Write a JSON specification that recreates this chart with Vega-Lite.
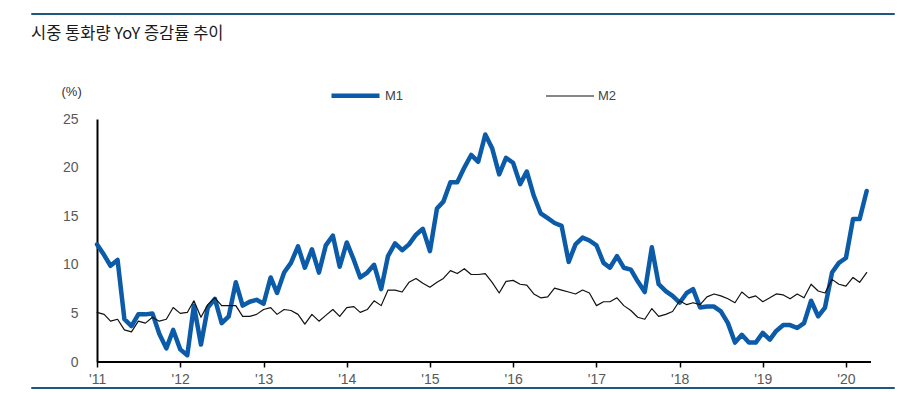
{
  "$schema": "https://vega.github.io/schema/vega-lite/v6.json",
  "background": "white",
  "padding": {"left": 30, "top": 12, "right": 0, "bottom": 0},
  "config": {"view": {"stroke": null}, "font": "Liberation Sans"},
  "spacing": 26,
  "resolve": {"legend": {"color": "independent", "strokeWidth": "independent"}, "scale": {"color": "independent", "strokeWidth": "independent"}},
  "vconcat": [
    {
      "width": 863,
      "height": 1,
      "data": {"values": []},
      "mark": {"type": "rule"},
      "encoding": {},
      "view": {"stroke": "#1d5783", "strokeWidth": 1},
      "title": {"text": "시중 통화량 YoY 증감률 추이", "orient": "bottom", "anchor": "start", "offset": 12, "font": "Noto Sans CJK KR", "fontSize": 16.5, "fontWeight": "normal", "color": "#1a1a1a"}
    },
    {
      "spacing": 0,
      "resolve": {"legend": {"color": "independent", "strokeWidth": "independent"}, "scale": {"color": "independent", "strokeWidth": "independent"}},
      "vconcat": [
        {
          "width": 840,
          "height": 243,
          "data": {"values": [
            {"d":"2011-01-01","M1":12.1,"M2":5.1},{"d":"2011-02-01","M1":11.0,"M2":4.9},{"d":"2011-03-01","M1":9.9,"M2":4.2},{"d":"2011-04-01","M1":10.5,"M2":4.4},
            {"d":"2011-05-01","M1":4.4,"M2":3.3},{"d":"2011-06-01","M1":3.7,"M2":3.1},{"d":"2011-07-01","M1":4.9,"M2":4.2},{"d":"2011-08-01","M1":4.9,"M2":4.0},
            {"d":"2011-09-01","M1":5.0,"M2":4.6},{"d":"2011-10-01","M1":2.9,"M2":4.2},{"d":"2011-11-01","M1":1.4,"M2":4.4},{"d":"2011-12-01","M1":3.3,"M2":5.6},
            {"d":"2012-01-01","M1":1.3,"M2":5.0},{"d":"2012-02-01","M1":0.7,"M2":5.1},{"d":"2012-03-01","M1":5.8,"M2":6.3},{"d":"2012-04-01","M1":1.8,"M2":4.6},
            {"d":"2012-05-01","M1":5.6,"M2":5.9},{"d":"2012-06-01","M1":6.5,"M2":6.6},{"d":"2012-07-01","M1":4.0,"M2":5.8},{"d":"2012-08-01","M1":4.7,"M2":5.8},
            {"d":"2012-09-01","M1":8.2,"M2":5.8},{"d":"2012-10-01","M1":5.8,"M2":4.7},{"d":"2012-11-01","M1":6.2,"M2":4.7},{"d":"2012-12-01","M1":6.4,"M2":4.9},
            {"d":"2013-01-01","M1":6.0,"M2":5.4},{"d":"2013-02-01","M1":8.7,"M2":5.6},{"d":"2013-03-01","M1":7.1,"M2":4.9},{"d":"2013-04-01","M1":9.2,"M2":5.4},
            {"d":"2013-05-01","M1":10.2,"M2":5.3},{"d":"2013-06-01","M1":11.9,"M2":4.9},{"d":"2013-07-01","M1":9.7,"M2":3.9},{"d":"2013-08-01","M1":11.6,"M2":4.9},
            {"d":"2013-09-01","M1":9.2,"M2":4.2},{"d":"2013-10-01","M1":12.0,"M2":4.8},{"d":"2013-11-01","M1":13.0,"M2":5.4},{"d":"2013-12-01","M1":9.8,"M2":4.7},
            {"d":"2014-01-01","M1":12.3,"M2":5.6},{"d":"2014-02-01","M1":10.5,"M2":5.7},{"d":"2014-03-01","M1":8.7,"M2":5.1},{"d":"2014-04-01","M1":9.2,"M2":5.4},
            {"d":"2014-05-01","M1":10.0,"M2":6.3},{"d":"2014-06-01","M1":7.5,"M2":5.8},{"d":"2014-07-01","M1":10.9,"M2":7.4},{"d":"2014-08-01","M1":12.2,"M2":7.4},
            {"d":"2014-09-01","M1":11.5,"M2":7.2},{"d":"2014-10-01","M1":12.1,"M2":8.2},{"d":"2014-11-01","M1":13.1,"M2":8.6},{"d":"2014-12-01","M1":13.7,"M2":8.1},
            {"d":"2015-01-01","M1":11.4,"M2":7.7},{"d":"2015-02-01","M1":15.8,"M2":8.2},{"d":"2015-03-01","M1":16.5,"M2":8.6},{"d":"2015-04-01","M1":18.5,"M2":9.4},
            {"d":"2015-05-01","M1":18.5,"M2":9.1},{"d":"2015-06-01","M1":20.0,"M2":9.6},{"d":"2015-07-01","M1":21.3,"M2":9.0},{"d":"2015-08-01","M1":20.6,"M2":9.0},
            {"d":"2015-09-01","M1":23.4,"M2":9.1},{"d":"2015-10-01","M1":22.0,"M2":8.2},{"d":"2015-11-01","M1":19.3,"M2":7.1},{"d":"2015-12-01","M1":21.0,"M2":8.3},
            {"d":"2016-01-01","M1":20.5,"M2":8.4},{"d":"2016-02-01","M1":18.3,"M2":8.0},{"d":"2016-03-01","M1":19.6,"M2":7.9},{"d":"2016-04-01","M1":17.1,"M2":7.0},
            {"d":"2016-05-01","M1":15.3,"M2":6.6},{"d":"2016-06-01","M1":14.8,"M2":6.7},{"d":"2016-07-01","M1":14.3,"M2":7.6},{"d":"2016-08-01","M1":14.0,"M2":7.4},
            {"d":"2016-09-01","M1":10.3,"M2":7.2},{"d":"2016-10-01","M1":12.1,"M2":7.0},{"d":"2016-11-01","M1":12.8,"M2":7.4},{"d":"2016-12-01","M1":12.5,"M2":7.1},
            {"d":"2017-01-01","M1":12.0,"M2":5.8},{"d":"2017-02-01","M1":10.2,"M2":6.2},{"d":"2017-03-01","M1":9.7,"M2":6.2},{"d":"2017-04-01","M1":10.9,"M2":6.6},
            {"d":"2017-05-01","M1":9.7,"M2":5.8},{"d":"2017-06-01","M1":9.5,"M2":5.3},{"d":"2017-07-01","M1":8.3,"M2":4.6},{"d":"2017-08-01","M1":7.2,"M2":4.4},
            {"d":"2017-09-01","M1":11.8,"M2":5.5},{"d":"2017-10-01","M1":8.0,"M2":4.7},{"d":"2017-11-01","M1":7.3,"M2":4.9},{"d":"2017-12-01","M1":6.8,"M2":5.2},
            {"d":"2018-01-01","M1":6.1,"M2":6.3},{"d":"2018-02-01","M1":7.1,"M2":5.9},{"d":"2018-03-01","M1":7.5,"M2":6.1},{"d":"2018-04-01","M1":5.6,"M2":5.9},
            {"d":"2018-05-01","M1":5.7,"M2":6.7},{"d":"2018-06-01","M1":5.7,"M2":7.0},{"d":"2018-07-01","M1":5.2,"M2":6.8},{"d":"2018-08-01","M1":4.0,"M2":6.5},
            {"d":"2018-09-01","M1":2.0,"M2":6.1},{"d":"2018-10-01","M1":2.8,"M2":7.2},{"d":"2018-11-01","M1":2.0,"M2":6.6},{"d":"2018-12-01","M1":2.0,"M2":6.8},
            {"d":"2019-01-01","M1":3.0,"M2":6.2},{"d":"2019-02-01","M1":2.3,"M2":6.6},{"d":"2019-03-01","M1":3.2,"M2":7.0},{"d":"2019-04-01","M1":3.8,"M2":6.9},
            {"d":"2019-05-01","M1":3.8,"M2":6.5},{"d":"2019-06-01","M1":3.5,"M2":7.0},{"d":"2019-07-01","M1":4.0,"M2":6.6},{"d":"2019-08-01","M1":6.3,"M2":8.0},
            {"d":"2019-09-01","M1":4.7,"M2":7.3},{"d":"2019-10-01","M1":5.6,"M2":7.1},{"d":"2019-11-01","M1":9.2,"M2":8.5},{"d":"2019-12-01","M1":10.2,"M2":8.0},
            {"d":"2020-01-01","M1":10.7,"M2":7.8},{"d":"2020-02-01","M1":14.7,"M2":8.7},{"d":"2020-03-01","M1":14.7,"M2":8.2},{"d":"2020-04-01","M1":17.6,"M2":9.2}
          ]},
          "layer": [
            {
              "data": {"values": [{"a": 0}]},
              "mark": {"type": "rule", "color": "#000000", "strokeWidth": 2},
              "encoding": {
                "x": {"datum": {"year": 2011, "month": 1, "date": 1, "utc": true}, "type": "temporal"},
                "x2": {"datum": {"year": 2020, "month": 4, "date": 20, "utc": true}},
                "y": {"datum": 0, "type": "quantitative"}
              }
            },
            {
              "transform": [{"fold": ["M1", "M2"], "as": ["s", "v"]}],
              "mark": {"type": "line", "strokeJoin": "round", "strokeCap": "round"},
              "encoding": {
                "x": {
                  "field": "d", "type": "temporal",
                  "scale": {"type": "utc", "nice": false, "domain": [{"year": 2010, "month": 3, "date": 17, "utc": true}, {"year": 2020, "month": 4, "date": 20, "utc": true}]},
                  "axis": {
                    "title": null, "format": "'%y", "grid": false, "domain": false,
                    "values": [
                      {"year": 2011, "month": 1, "date": 1, "utc": true}, {"year": 2012, "month": 1, "date": 1, "utc": true},
                      {"year": 2013, "month": 1, "date": 1, "utc": true}, {"year": 2014, "month": 1, "date": 1, "utc": true},
                      {"year": 2015, "month": 1, "date": 1, "utc": true}, {"year": 2016, "month": 1, "date": 1, "utc": true},
                      {"year": 2017, "month": 1, "date": 1, "utc": true}, {"year": 2018, "month": 1, "date": 1, "utc": true},
                      {"year": 2019, "month": 1, "date": 1, "utc": true}, {"year": 2020, "month": 1, "date": 1, "utc": true}
                    ],
                    "tickColor": "#000000", "tickWidth": 1.5, "tickSize": 5,
                    "labelPadding": 5, "labelFontSize": 14, "labelColor": "#595959", "labelFlush": false, "labelOverlap": false,
                    "minExtent": 24, "maxExtent": 24
                  }
                },
                "y": {
                  "field": "v", "type": "quantitative",
                  "scale": {"domain": [0, 25], "nice": false},
                  "axis": {
                    "title": "(%)", "titleAngle": 0, "titleX": -36, "titleY": -28, "titleAlign": "left", "titleBaseline": "middle",
                    "titleFontSize": 13, "titleFontWeight": "normal", "titleColor": "#333333",
                    "values": [0, 5, 10, 15, 20, 25], "ticks": false, "grid": false, "offset": -66,
                    "domainColor": "#000000", "domainWidth": 2,
                    "labelPadding": 19, "labelFontSize": 14, "labelColor": "#595959"
                  }
                },
                "color": {
                  "field": "s", "type": "nominal",
                  "scale": {"domain": ["M1", "M2"], "range": ["#0b5ba8", "#111111"]},
                  "legend": {"title": null, "orient": "none", "legendX": 298, "legendY": -50, "direction": "horizontal", "symbolType": "stroke", "symbolSize": 2304, "labelFontSize": 13, "labelColor": "#444444", "labelOffset": 3, "columnPadding": 139}
                },
                "strokeWidth": {
                  "field": "s", "type": "nominal",
                  "scale": {"domain": ["M1", "M2"], "range": [4.5, 1.2]},
                  "legend": {"title": null, "orient": "none", "legendX": 298, "legendY": -50, "direction": "horizontal", "symbolType": "stroke", "symbolSize": 2304, "labelFontSize": 13, "labelColor": "#444444", "labelOffset": 3, "columnPadding": 139}
                }
              }
            }
          ]
        },
        {
          "width": 863,
          "height": 1,
          "data": {"values": []},
          "mark": {"type": "rule"},
          "encoding": {},
          "view": {"stroke": "#1d5783", "strokeWidth": 1}
        }
      ]
    }
  ]
}
